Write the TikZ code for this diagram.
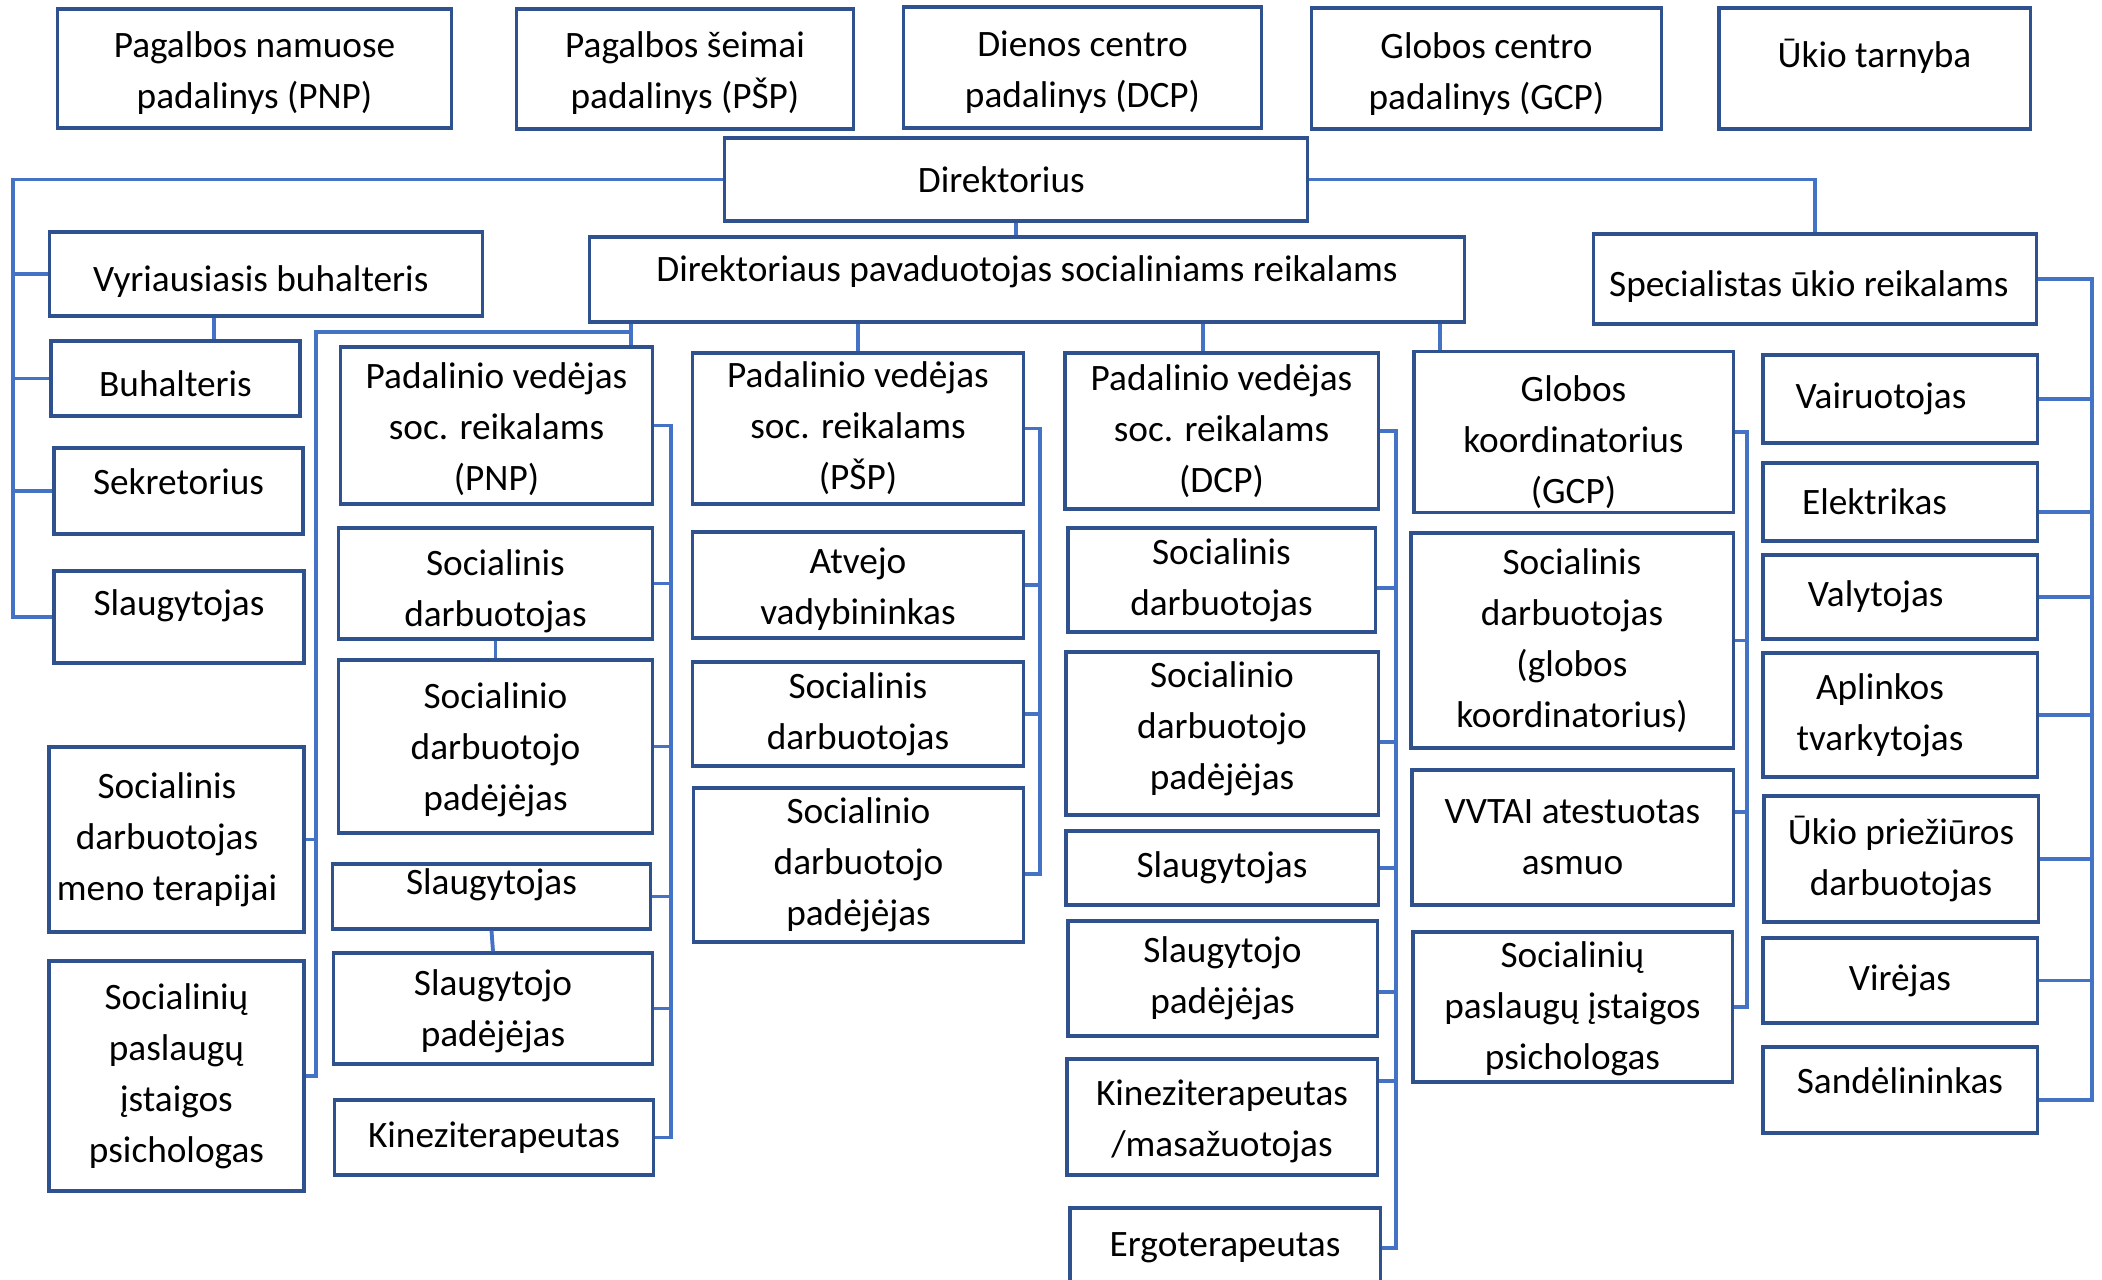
\documentclass[tikz,border=0pt]{standalone}
\usepackage{fontspec}
\setmainfont{Carlito}
\definecolor{boxblue}{HTML}{2F528F}
\definecolor{lineblue}{HTML}{4472C4}
\tikzset{
	unit/.style={draw=boxblue, line width=0.9pt, align=center, inner sep=1pt, font=\fontsize{10.6}{14.5}\selectfont},
	link/.style={draw=lineblue, line width=1.1pt},
	lifttext/.style={text height=7pt, text depth=#1},
	droptext/.style={text height=#1, text depth=2pt},
	lowerlines/.style={text height=#1},
	leftlines/.style={execute at end node={\hspace*{#1}}}
}

\begin{document}
\begin{tikzpicture}[x=0.01cm, y=-0.01cm]
	\useasboundingbox (0,0) rectangle (2102,1280);

	% padaliniai
	\node[unit, lowerlines=24.2pt, minimum width=3.93cm, minimum height=1.19cm] (pnpu) at (254.5,68.5) {Pagalbos namuose\\padalinys (PNP)};
	\node[unit, lowerlines=24.2pt, minimum width=3.36cm, minimum height=1.20cm] (pspu) at (685,69) {Pagalbos šeimai\\padalinys (PŠP)};
	\node[unit, lowerlines=24.2pt, minimum width=3.57cm, minimum height=1.21cm] (dcpu) at (1082.5,67.5) {Dienos centro\\padalinys (DCP)};
	\node[unit, lowerlines=24.8pt, minimum width=3.49cm, minimum height=1.21cm] (gcpu) at (1486.5,68.5) {Globos centro\\padalinys (GCP)};
	\node[unit, lifttext=7.7pt, minimum width=3.11cm, minimum height=1.21cm] (ukiou) at (1874.5,68.5) {Ūkio tarnyba};

	% vadovai
	\node[unit, leftlines=8.4pt, minimum width=5.82cm, minimum height=0.83cm] (dir) at (1016,179.5) {Direktorius};
	\node[unit, lifttext=6pt, minimum width=8.74cm, minimum height=0.85cm] (pav) at (1027,279.5) {Direktoriaus pavaduotojas socialiniams reikalams};
	\node[unit, droptext=12pt, leftlines=3.5pt, minimum width=4.42cm, minimum height=0.90cm] (spec) at (1815,279) {Specialistas ūkio reikalams};

	% kairė
	\node[unit, droptext=12.1pt, leftlines=3pt, minimum width=4.32cm, minimum height=0.84cm] (vb) at (266,274) {Vyriausiasis buhalteris};
	\node[unit, droptext=12.1pt, minimum width=2.49cm, minimum height=0.75cm] (buh) at (175.5,378.5) {Buhalteris};
	\node[unit, lifttext=4.9pt, minimum width=2.49cm, minimum height=0.86cm] (sek) at (178.5,491) {Sekretorius};
	\node[unit, lifttext=7.7pt, minimum width=2.50cm, minimum height=0.92cm] (slg) at (179,617) {Slaugytojas};
	\node[unit, minimum width=2.55cm, minimum height=1.85cm] (meno) at (176.5,839.5) {Socialinis\hspace*{5.4pt}\null\\darbuotojas\hspace*{5.4pt}\null\\meno terapijai\hspace*{5.4pt}\null};
	\node[unit, minimum width=2.55cm, minimum height=2.30cm] (psy) at (176.5,1076) {Socialinių\\paslaugų\\įstaigos\\psichologas};

	% PNP
	\node[unit, lowerlines=38.2pt, minimum width=3.11cm, minimum height=1.57cm] (pnphead) at (496.5,425.5) {Padalinio vedėjas\\soc. reikalams\\(PNP)};
	\node[unit, lowerlines=26.5pt, minimum width=3.13cm, minimum height=1.11cm] (pnpsd) at (495.5,583.5) {Socialinis\\darbuotojas};
	\node[unit, lowerlines=38.2pt, minimum width=3.13cm, minimum height=1.73cm] (pnpsdp) at (495.5,746.5) {Socialinio\\darbuotojo\\padėjėjas};
	\node[unit, lifttext=8.2pt, minimum width=3.17cm, minimum height=0.65cm] (pnpsl) at (491.5,896.5) {Slaugytojas};
	\node[unit, lowerlines=23.7pt, minimum width=3.18cm, minimum height=1.11cm] (pnpslp) at (493,1008.5) {Slaugytojo\\padėjėjas};
	\node[unit, minimum width=3.18cm, minimum height=0.75cm] (pnpkin) at (494,1137.5) {Kineziterapeutas};

	% PŠP
	\node[unit, minimum width=3.30cm, minimum height=1.51cm] (psphead) at (858,428.5) {Padalinio vedėjas\\soc. reikalams\\(PŠP)};
	\node[unit, lowerlines=24.2pt, minimum width=3.30cm, minimum height=1.06cm] (pspatv) at (858,585) {Atvejo\\vadybininkas};
	\node[unit, minimum width=3.30cm, minimum height=1.04cm] (pspsd) at (858,714) {Socialinis\\darbuotojas};
	\node[unit, minimum width=3.29cm, minimum height=1.54cm] (pspsdp) at (858.5,865) {Socialinio\\darbuotojo\\padėjėjas};

	% DCP
	\node[unit, minimum width=3.13cm, minimum height=1.56cm] (dcphead) at (1221.5,431) {Padalinio vedėjas\\soc. reikalams\\(DCP)};
	\node[unit, minimum width=3.07cm, minimum height=1.04cm] (dcpsd) at (1221.5,580) {Socialinis\\darbuotojas};
	\node[unit, lowerlines=33.6pt, minimum width=3.12cm, minimum height=1.63cm] (dcpsdp) at (1222,733.5) {Socialinio\\darbuotojo\\padėjėjas};
	\node[unit, minimum width=3.12cm, minimum height=0.74cm] (dcpsl) at (1222,868) {Slaugytojas};
	\node[unit, minimum width=3.09cm, minimum height=1.15cm] (dcpslp) at (1222.5,978.5) {Slaugytojo\\padėjėjas};
	\node[unit, lowerlines=24.2pt, minimum width=3.10cm, minimum height=1.16cm] (dcpkin) at (1222,1117) {Kineziterapeutas\\/masažuotojas};
	\node[unit, minimum width=3.10cm, minimum height=0.80cm] (dcperg) at (1225,1248) {Ergoterapeutas};

	% GCP
	\node[unit, lowerlines=42.2pt, minimum width=3.19cm, minimum height=1.58cm] (gcphead) at (1573.5,432) {Globos\\koordinatorius\\(GCP)};
	\node[unit, minimum width=3.22cm, minimum height=2.15cm] (gcpsd) at (1572,640.5) {Socialinis\\darbuotojas\\(globos\\koordinatorius)};
	\node[unit, minimum width=3.21cm, minimum height=1.35cm] (gcpvv) at (1572.5,837.5) {VVTAI atestuotas\\asmuo};
	\node[unit, lowerlines=37.6pt, minimum width=3.19cm, minimum height=1.50cm] (gcppsy) at (1572.5,1007) {Socialinių\\paslaugų įstaigos\\psichologas};

	% ūkis
	\node[unit, leftlines=10.8pt, minimum width=2.74cm, minimum height=0.88cm] (vair) at (1900,399) {Vairuotojas};
	\node[unit, leftlines=14.5pt, minimum width=2.74cm, minimum height=0.78cm] (elek) at (1900,502) {Elektrikas};
	\node[unit, leftlines=13.8pt, minimum width=2.74cm, minimum height=0.84cm] (valy) at (1900,597) {Valytojas};
	\node[unit, minimum width=2.74cm, minimum height=1.24cm] (apl) at (1900,715) {Aplinkos\hspace*{11.4pt}\null\\tvarkytojas\hspace*{11.4pt}\null};
	\node[unit, minimum width=2.74cm, minimum height=1.26cm] (ukpr) at (1901,859) {Ūkio priežiūros\\darbuotojas};
	\node[unit, minimum width=2.74cm, minimum height=0.85cm] (vire) at (1900,980.5) {Virėjas};
	\node[unit, lifttext=4.9pt, minimum width=2.74cm, minimum height=0.86cm] (sand) at (1900,1090) {Sandėlininkas};

	% jungtys
	\coordinate (ltrunk) at (13,179.5);
	\draw[link] (dir.west) -- (ltrunk) |- (slg.west);
	\draw[link] (ltrunk |- vb.west) -- (vb.west);
	\draw[link] (ltrunk |- buh.west) -- (buh.west);
	\draw[link] (ltrunk |- sek.west) -- (sek.west);
	\coordinate (vbtap) at (214,330);
	\draw[link] (vb.south -| vbtap) -- (buh.north -| vbtap);

	\draw[link] (dir.east) -| (spec.north);
	\draw[link] (dir.south) -- (dir.south |- pav.north);

	\coordinate (sbus) at (631,332);
	\coordinate (mbus) at (316,332);
	\draw[link] (pav.south -| sbus) -- (pnphead.north -| sbus);
	\draw[link] (sbus) -- (mbus) |- (psy.east);
	\draw[link] (mbus |- meno.east) -- (meno.east);

	\draw[link] (pav.south -| psphead.north) -- (psphead.north);
	\coordinate (dcptap) at (1203,340);
	\draw[link] (pav.south -| dcptap) -- (dcphead.north -| dcptap);
	\coordinate (gcptap) at (1440,340);
	\draw[link] (pav.south -| gcptap) -- (gcphead.north -| gcptap);

	\coordinate (pnpbus) at (671,432);
	\draw[link] (pnphead.east) -| (pnpbus |- pnpkin.east) -- (pnpkin.east);
	\draw[link] (pnpbus |- pnpsd.east) -- (pnpsd.east);
	\draw[link] (pnpbus |- pnpsdp.east) -- (pnpsdp.east);
	\draw[link] (pnpbus |- pnpsl.east) -- (pnpsl.east);
	\draw[link] (pnpbus |- pnpslp.east) -- (pnpslp.east);
	\draw[link] (pnpsd.south) -- (pnpsdp.north);
	\draw[link] (pnpsl.south) -- (pnpslp.north);

	\coordinate (pspbus) at (1040,433);
	\draw[link] (psphead.east) -| (pspbus |- pspsdp.-3) -- (pspsdp.-3);
	\draw[link] (pspbus |- pspatv.east) -- (pspatv.east);
	\draw[link] (pspbus |- pspsd.east) -- (pspsd.east);

	\coordinate (dcpbus) at (1396,434);
	\draw[link] (dcphead.east) -| (dcpbus |- dcperg.east) -- (dcperg.east);
	\draw[link] (dcpbus |- dcpsd.-3) -- (dcpsd.-3);
	\draw[link] (dcpbus |- dcpsdp.-3) -- (dcpsdp.-3);
	\draw[link] (dcpbus |- dcpsl.east) -- (dcpsl.east);
	\draw[link] (dcpbus |- dcpslp.-5) -- (dcpslp.-5);
	\draw[link] (dcpbus |- dcpkin.13) -- (dcpkin.13);

	\coordinate (gcpbus) at (1747,428);
	\draw[link] (gcphead.east) -| (gcpbus |- gcppsy.east) -- (gcppsy.east);
	\draw[link] (gcpbus |- gcpsd.east) -- (gcpsd.east);
	\draw[link] (gcpbus |- gcpvv.9) -- (gcpvv.9);

	\coordinate (ubus) at (2092,279);
	\draw[link] (spec.east) -| (ubus |- sand.-4) -- (sand.-4);
	\draw[link] (ubus |- vair.east) -- (vair.east);
	\draw[link] (ubus |- elek.-4) -- (elek.-4);
	\draw[link] (ubus |- valy.east) -- (valy.east);
	\draw[link] (ubus |- apl.east) -- (apl.east);
	\draw[link] (ubus |- ukpr.east) -- (ukpr.east);
	\draw[link] (ubus |- vire.east) -- (vire.east);
\end{tikzpicture}
\end{document}
